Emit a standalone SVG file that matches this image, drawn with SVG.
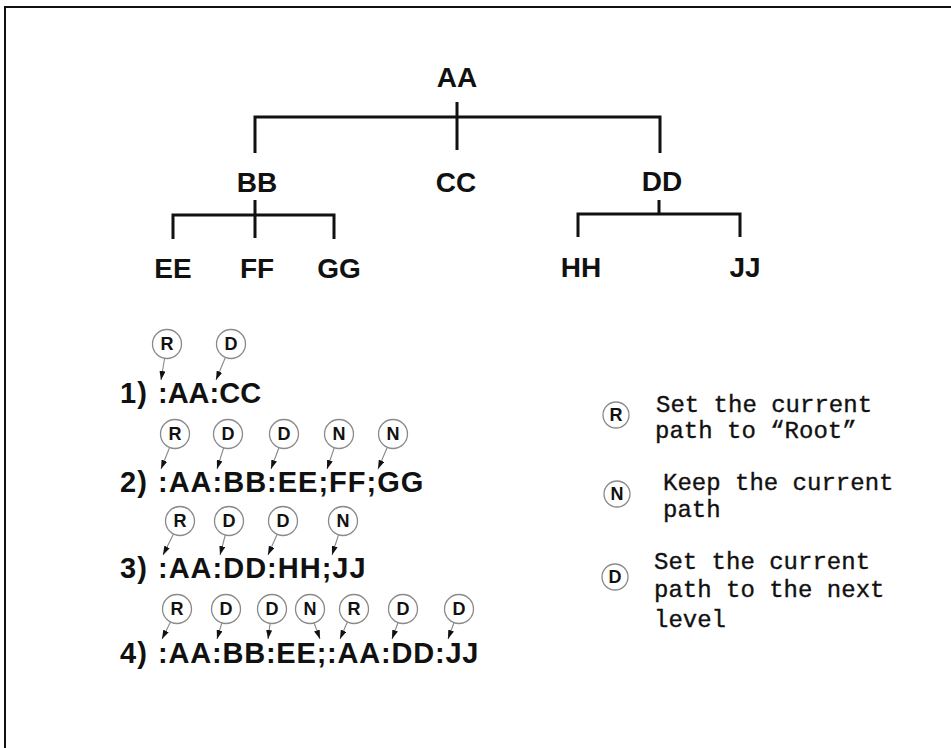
<svg xmlns="http://www.w3.org/2000/svg" width="951" height="748" viewBox="0 0 951 748">
<defs>
<style>
.bg{fill:#fff}
.frame{stroke:#111;stroke-width:2;fill:none}
.tl{stroke:#111;stroke-width:3;fill:none;stroke-linecap:butt}
.t{font-family:"Liberation Sans",Arial,sans-serif;font-weight:bold;font-size:28px;fill:#111;text-anchor:middle}
.row{font-family:"Liberation Sans",Arial,sans-serif;font-weight:bold;font-size:29px;fill:#111;letter-spacing:1px}
.cc{fill:#fff;stroke:#8a8a8a;stroke-width:1.3}
.cl{font-family:"Liberation Sans",Arial,sans-serif;font-weight:bold;font-size:18px;fill:#111;text-anchor:middle}
.ptr{stroke:#888;stroke-width:1.1;fill:none;marker-end:url(#ah)}
.leg{font-family:"Liberation Mono","Courier New",monospace;font-size:24px;fill:#111;stroke:#111;stroke-width:0.35}
</style>
<marker id="ah" markerWidth="9" markerHeight="6" refX="9" refY="3" orient="auto" markerUnits="userSpaceOnUse">
<path d="M0,0 L9,3 L0,6 z" fill="#111"/>
</marker>
</defs>
<rect class="bg" x="0" y="0" width="951" height="748"/>
<path class="frame" d="M5,748 L5,7 L951,7"/>

<g id="tree-connectors">
<path class="tl" d="M457,102 V150 M255,153 V117 H660 V153"/>
<path class="tl" d="M255,200 V238 M173,239 V215 H334 V239"/>
<path class="tl" d="M659,200 V214 M578,237 V214 H740 V237"/>
</g>

<g id="node-AA"><text class="t" x="457" y="87">AA</text></g>
<g id="node-BB"><text class="t" x="257" y="192">BB</text></g>
<g id="node-CC"><text class="t" x="456" y="192">CC</text></g>
<g id="node-DD"><text class="t" x="662" y="191">DD</text></g>
<g id="node-EE"><text class="t" x="173" y="278">EE</text></g>
<g id="node-FF"><text class="t" x="257" y="278">FF</text></g>
<g id="node-GG"><text class="t" x="339" y="278">GG</text></g>
<g id="node-HH"><text class="t" x="581" y="277">HH</text></g>
<g id="node-JJ"><text class="t" x="745" y="277">JJ</text></g>

<g id="pointers">
<line class="ptr" x1="167" y1="344" x2="161" y2="380"/>
<line class="ptr" x1="231" y1="344" x2="216" y2="380"/>

<line class="ptr" x1="175" y1="434" x2="161" y2="469"/>
<line class="ptr" x1="228" y1="434" x2="217" y2="469"/>
<line class="ptr" x1="284" y1="434" x2="271" y2="469"/>
<line class="ptr" x1="339" y1="434" x2="327" y2="469"/>
<line class="ptr" x1="393" y1="434" x2="378" y2="469"/>

<line class="ptr" x1="180" y1="521" x2="163" y2="555"/>
<line class="ptr" x1="229" y1="521" x2="220" y2="555"/>
<line class="ptr" x1="283" y1="521" x2="268" y2="555"/>
<line class="ptr" x1="343" y1="521" x2="332" y2="555"/>

<line class="ptr" x1="177" y1="609" x2="162" y2="639"/>
<line class="ptr" x1="226" y1="609" x2="217" y2="639"/>
<line class="ptr" x1="272" y1="609" x2="268" y2="639"/>
<line class="ptr" x1="309" y1="609" x2="320" y2="639"/>
<line class="ptr" x1="353" y1="609" x2="340" y2="639"/>
<line class="ptr" x1="403" y1="609" x2="392" y2="639"/>
<line class="ptr" x1="459" y1="609" x2="448" y2="639"/>
</g>

<g id="row1">
<text class="row" x="120" y="403">1)</text>
<text class="row" x="158" y="403" style="letter-spacing:0">:AA:CC</text>
<g id="r1-R"><circle class="cc" cx="167" cy="344" r="14.5"/><text class="cl" x="167" y="350">R</text></g>
<g id="r1-D"><circle class="cc" cx="231" cy="344" r="14.5"/><text class="cl" x="231" y="350">D</text></g>
</g>

<g id="row2">
<text class="row" x="120" y="492">2)</text>
<text class="row" x="158" y="492">:AA:BB:EE;FF;GG</text>
<g id="r2-R"><circle class="cc" cx="175" cy="434" r="14.5"/><text class="cl" x="175" y="440">R</text></g>
<g id="r2-D1"><circle class="cc" cx="228" cy="434" r="14.5"/><text class="cl" x="228" y="440">D</text></g>
<g id="r2-D2"><circle class="cc" cx="284" cy="434" r="14.5"/><text class="cl" x="284" y="440">D</text></g>
<g id="r2-N1"><circle class="cc" cx="339" cy="434" r="14.5"/><text class="cl" x="339" y="440">N</text></g>
<g id="r2-N2"><circle class="cc" cx="393" cy="434" r="14.5"/><text class="cl" x="393" y="440">N</text></g>
</g>

<g id="row3">
<text class="row" x="120" y="578">3)</text>
<text class="row" x="158" y="578">:AA:DD:HH;JJ</text>
<g id="r3-R"><circle class="cc" cx="180" cy="521" r="14.5"/><text class="cl" x="180" y="527">R</text></g>
<g id="r3-D1"><circle class="cc" cx="229" cy="521" r="14.5"/><text class="cl" x="229" y="527">D</text></g>
<g id="r3-D2"><circle class="cc" cx="283" cy="521" r="14.5"/><text class="cl" x="283" y="527">D</text></g>
<g id="r3-N"><circle class="cc" cx="343" cy="521" r="14.5"/><text class="cl" x="343" y="527">N</text></g>
</g>

<g id="row4">
<text class="row" x="120" y="663">4)</text>
<text class="row" x="158" y="663" style="letter-spacing:0.8px">:AA:BB:EE;:AA:DD:JJ</text>
<g id="r4-R1"><circle class="cc" cx="177" cy="609" r="14.5"/><text class="cl" x="177" y="615">R</text></g>
<g id="r4-D1"><circle class="cc" cx="226" cy="609" r="14.5"/><text class="cl" x="226" y="615">D</text></g>
<g id="r4-D2"><circle class="cc" cx="272" cy="609" r="14.5"/><text class="cl" x="272" y="615">D</text></g>
<g id="r4-N"><circle class="cc" cx="310" cy="609" r="14.5"/><text class="cl" x="310" y="615">N</text></g>
<g id="r4-R2"><circle class="cc" cx="354" cy="609" r="14.5"/><text class="cl" x="354" y="615">R</text></g>
<g id="r4-D3"><circle class="cc" cx="403" cy="609" r="14.5"/><text class="cl" x="403" y="615">D</text></g>
<g id="r4-D4"><circle class="cc" cx="459" cy="609" r="14.5"/><text class="cl" x="459" y="615">D</text></g>
</g>

<g id="legend-R">
<circle class="cc" cx="616" cy="415" r="13"/><text class="cl" x="616" y="421">R</text>
<text class="leg" x="656" y="412">Set the current</text>
<text class="leg" x="655" y="438">path to “Root”</text>
</g>
<g id="legend-N">
<circle class="cc" cx="617" cy="494" r="13"/><text class="cl" x="617" y="500">N</text>
<text class="leg" x="663" y="490">Keep the current</text>
<text class="leg" x="663" y="517">path</text>
</g>
<g id="legend-D">
<circle class="cc" cx="615" cy="577" r="13"/><text class="cl" x="615" y="583">D</text>
<text class="leg" x="654" y="569">Set the current</text>
<text class="leg" x="654" y="597">path to the next</text>
<text class="leg" x="654" y="627">level</text>
</g>
</svg>
